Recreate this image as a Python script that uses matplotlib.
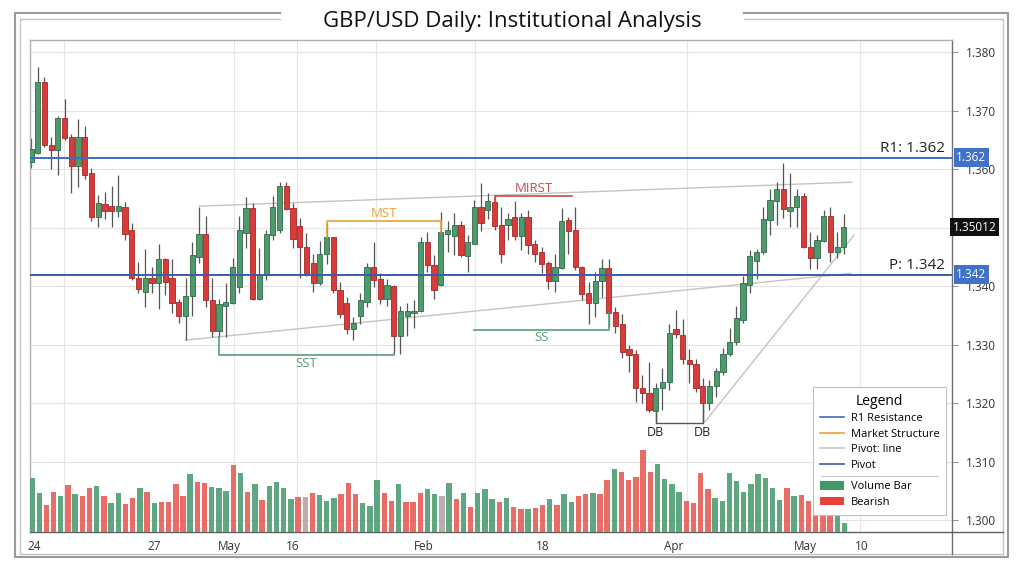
import matplotlib
matplotlib.use("Agg")
import matplotlib.pyplot as plt
from matplotlib.lines import Line2D
from matplotlib.patches import Patch
import numpy as np

plt.rcParams['font.family'] = ['Open Sans', 'DejaVu Sans']

# ---------------- data ----------------
opens = [1.3612,1.3627,1.3749,1.3641,1.3633,1.3687,1.3655,1.3605,1.3655,1.3593,
         1.3518,1.3540,1.3538,1.3528,1.3535,1.3497,1.3414,1.3390,1.3415,1.3405,
         1.3446,1.3414,1.3374,1.3350,1.3383,1.3450,1.3489,1.3376,1.3323,1.3366,
         1.3372,1.3398,1.3491,1.3533,1.3379,1.3419,1.3487,1.3497,1.3571,1.3533,
         1.3503,1.3468,1.3439,1.3405,1.3455,1.3484,1.3393,1.3371,1.3327,1.3349,
         1.3374,1.3433,1.3412,1.3379,1.3400,1.3315,1.3349,1.3354,1.3357,1.3475,
         1.3436,1.3402,1.3489,1.3486,1.3504,1.3451,1.3473,1.3535,1.3530,1.3544,
         1.3504,1.3504,1.3518,1.3486,1.3518,1.3472,1.3458,1.3439,1.3409,1.3431,
         1.3513,1.3496,1.3433,1.3388,1.3372,1.3409,1.3431,1.3356,1.3335,1.3292,
         1.3284,1.3227,1.3217,1.3186,1.3226,1.3236,1.3327,1.3316,1.3274,1.3268,
         1.3230,1.3200,1.3229,1.3253,1.3284,1.3304,1.3342,1.3403,1.3443,1.3458,
         1.3513,1.3545,1.3566,1.3528,1.3535,1.3554,1.3468,1.3448,1.3477,1.3521,
         1.3458,1.3467]
closes = [1.3634,1.3749,1.3641,1.3633,1.3687,1.3653,1.3605,1.3655,1.3591,1.3518,
          1.3542,1.3528,1.3528,1.3538,1.3489,1.3414,1.3396,1.3415,1.3405,1.3446,
          1.3407,1.3372,1.3350,1.3383,1.3453,1.3489,1.3376,1.3323,1.3369,1.3374,
          1.3433,1.3497,1.3533,1.3379,1.3421,1.3489,1.3535,1.3571,1.3532,1.3480,
          1.3467,1.3419,1.3405,1.3456,1.3484,1.3393,1.3352,1.3327,1.3337,1.3376,
          1.3433,1.3410,1.3379,1.3402,1.3315,1.3357,1.3357,1.3357,1.3475,1.3436,
          1.3393,1.3492,1.3497,1.3504,1.3453,1.3475,1.3535,1.3508,1.3545,1.3503,
          1.3455,1.3515,1.3486,1.3518,1.3470,1.3456,1.3438,1.3409,1.3433,1.3511,
          1.3494,1.3433,1.3386,1.3372,1.3409,1.3431,1.3354,1.3332,1.3287,1.3282,
          1.3227,1.3217,1.3188,1.3226,1.3236,1.3320,1.3318,1.3275,1.3267,1.3227,
          1.3200,1.3229,1.3255,1.3285,1.3304,1.3345,1.3405,1.3451,1.3458,1.3515,
          1.3547,1.3566,1.3532,1.3535,1.3554,1.3467,1.3448,1.3479,1.3521,1.3458,
          1.3468,1.3501]
highs = [1.3653,1.3774,1.3757,1.3655,1.3691,1.3721,1.3660,1.3686,1.3674,1.3603,
         1.3556,1.3561,1.3571,1.3591,1.3544,1.3508,1.3441,1.3463,1.3433,1.3473,
         1.3448,1.3446,1.3379,1.3414,1.3475,1.3535,1.3520,1.3414,1.3379,1.3405,
         1.3448,1.3520,1.3552,1.3542,1.3465,1.3497,1.3554,1.3578,1.3578,1.3542,
         1.3516,1.3491,1.3456,1.3477,1.3508,1.3485,1.3407,1.3381,1.3347,1.3388,
         1.3439,1.3475,1.3422,1.3412,1.3402,1.3366,1.3371,1.3376,1.3484,1.3492,
         1.3453,1.3527,1.3511,1.3525,1.3511,1.3487,1.3547,1.3576,1.3559,1.3554,
         1.3535,1.3525,1.3545,1.3525,1.3530,1.3479,1.3467,1.3444,1.3455,1.3533,
         1.3518,1.3535,1.3434,1.3407,1.3424,1.3446,1.3446,1.3364,1.3352,1.3299,
         1.3291,1.3249,1.3270,1.3234,1.3260,1.3335,1.3359,1.3344,1.3292,1.3275,
         1.3244,1.3239,1.3260,1.3295,1.3328,1.3367,1.3417,1.3462,1.3463,1.3535,
         1.3567,1.3578,1.3610,1.3593,1.3567,1.3559,1.3492,1.3487,1.3530,1.3535,
         1.3492,1.3523]
lows = [1.3602,1.3626,1.3638,1.3600,1.3591,1.3650,1.3559,1.3569,1.3584,1.3511,
        1.3501,1.3515,1.3501,1.3518,1.3479,1.3410,1.3388,1.3364,1.3388,1.3362,
        1.3385,1.3354,1.3338,1.3308,1.3350,1.3439,1.3364,1.3313,1.3313,1.3313,
        1.3370,1.3388,1.3465,1.3376,1.3376,1.3410,1.3479,1.3491,1.3530,1.3465,
        1.3415,1.3417,1.3390,1.3402,1.3438,1.3388,1.3345,1.3318,1.3309,1.3335,
        1.3364,1.3398,1.3370,1.3367,1.3285,1.3284,1.3315,1.3328,1.3356,1.3424,
        1.3378,1.3400,1.3458,1.3453,1.3450,1.3424,1.3472,1.3494,1.3515,1.3496,
        1.3439,1.3479,1.3479,1.3462,1.3456,1.3441,1.3422,1.3396,1.3390,1.3429,
        1.3456,1.3427,1.3376,1.3335,1.3347,1.3381,1.3330,1.3320,1.3277,1.3253,
        1.3202,1.3200,1.3185,1.3168,1.3188,1.3222,1.3311,1.3268,1.3234,1.3219,
        1.3168,1.3188,1.3210,1.3248,1.3280,1.3300,1.3338,1.3388,1.3412,1.3456,
        1.3487,1.3504,1.3516,1.3501,1.3501,1.3465,1.3429,1.3429,1.3475,1.3441,
        1.3448,1.3455]

volumes = [54,39,27,40,36,47,38,36,44,46, 36,29,39,28,34,44,40,29,30,30,
           48,36,58,50,49,45,44,41,67,59, 40,48,32,46,50,44,33,35,35,39,
           37,31,34,38,49,38,29,26,52,39, 31,48,30,30,39,43,38,36,49,33,
           39,25,39,43,33,30,34,25,
           23,23,24,27,33,27,38,30,36,38, 39,38,52,63,60,52,55,82,60,68,
           53,48,40,31,29,59,43,34,31,59, 51,40,48,58,54,44,32,44,36,37,
           31,30,28,25,22,9]
volume_kind = ("ggrrgrgrrgrggrrgrgrrrrgrrgggrgrgrggggrxrgggrrrgggrrgrrrggxgrgrgggrgr"
               "rgrrgrggrrgrrgrrrrrggggrrrrggggggggggrgrrrrrgg")

r1_level = 1.362
pivot_level = 1.342
last_price = 1.35012
price_ticks = [1.300, 1.310, 1.320, 1.330, 1.340, 1.350, 1.360, 1.370, 1.380]
x_tick_pos = [0.45, 18.3, 29.6, 39.0, 58.5, 76.2, 95.7, 115.2, 123.7]
x_tick_labels = ['24', '27', 'May', '16', 'Feb', '18', 'Apr', 'May', '10']
x_grid_pos = [4.9, 30.2, 39.6, 51.3, 66.1, 97.6, 123.4]

# trend lines (x0, p0, x1, p1)
trend_lines = [(25, 1.3537, 122.2, 1.3578),
               (23, 1.3308, 122.0, 1.3422),
               (100.3, 1.3168, 122.5, 1.3487)]
# structure brackets: (label, x0, x1, level, end0, end1, label_x, label_y)
brackets = [('MST', 44, 61, 1.3511, 1.3484, 1.3492, 52.5, 1.3525),
            ('SST', 28, 54, 1.3282, 1.3313, 1.3285, 41.0, 1.3268),
            ('SS', 66, 86, 1.3326, 1.3326, 1.3354, 76.0, 1.3313),
            ('MIRST', 69, 80.5, 1.3554, 1.3544, 1.3554, 74.8, 1.3568)]
db_points = [93, 100]
db_level = 1.3166
db_ends = [1.3186, 1.3200]

# ---------------- styles ----------------
G_FILL, G_EDGE = '#4f9a6c', '#2f6b47'
R_FILL, R_EDGE = '#d93b3b', '#a32828'
VOL_COL = {'g': '#55a27a', 'r': '#e8645e', 'x': '#b8a9a9'}
BLUE = '#3d6cc0'
PIV_BLUE = '#3a5da8'
ORANGE = '#e8a33a'
GREEN_ANN = '#5a9e78'
RED_ANN = '#c94a4a'
TREND = '#c4c4c4'

W, H = 1024, 572
fig = plt.figure(figsize=(W / 100, H / 100), dpi=100)
rect = [30 / W, 1 - 532 / H, 922 / W, 492 / H]
ax = fig.add_axes(rect)
axv = fig.add_axes(rect)
axv.patch.set_alpha(0)
axv.axis('off')

n = len(opens)
x = np.arange(n)
o = np.array(opens); c = np.array(closes); hi = np.array(highs); lo = np.array(lows)
up = c >= o

ax.set_xlim(-0.15, 137.1)
ax.set_ylim(1.2980, 1.3821)

# grid
for p in price_ticks:
    ax.axhline(p, color='#e3e3e3', lw=0.8, zorder=0)
for gx in x_grid_pos:
    ax.axvline(gx, color='#e6e6e6', lw=0.8, zorder=0)

# candles
ax.vlines(x, lo, hi, color='#555555', lw=0.9, zorder=2)
body_bottom = np.minimum(o, c)
body_h = np.maximum(np.abs(c - o), 0.00012)
ax.bar(x, body_h, bottom=body_bottom, width=0.78,
       color=np.where(up, G_FILL, R_FILL), edgecolor=np.where(up, G_EDGE, R_EDGE),
       linewidth=0.6, zorder=3)

# pivot levels
ax.axhline(r1_level, color=BLUE, lw=1.4, zorder=4)
ax.axhline(pivot_level, color=PIV_BLUE, lw=1.4, zorder=4)
ax.text(136.0, r1_level + 0.0003, f'R1: {r1_level:.3f}', ha='right', va='bottom',
        fontsize=11, color='#222222', zorder=6)
ax.text(136.0, pivot_level + 0.0003, f'P: {pivot_level:.3f}', ha='right', va='bottom',
        fontsize=11, color='#222222', zorder=6)

# trend lines
for (x0, p0, x1, p1) in trend_lines:
    ax.plot([x0, x1], [p0, p1], color=TREND, lw=1.0, zorder=1.5)

# brackets
ann_colors = {'MST': ORANGE, 'SST': GREEN_ANN, 'SS': GREEN_ANN, 'MIRST': RED_ANN}
for (lab, x0, x1, lev, e0, e1, lx, ly) in brackets:
    col = ann_colors[lab]
    ax.plot([x0, x0, x1, x1], [e0, lev, lev, e1], color=col, lw=1.2, zorder=4)
    ax.text(lx, ly, lab, ha='center', va='center', fontsize=9.5, color=col, zorder=6)
ax.plot([db_points[0], db_points[0], db_points[1], db_points[1]],
        [db_ends[0], db_level, db_level, db_ends[1]], color='#555555', lw=1.0, zorder=4)
for dx in db_points:
    ax.text(dx, db_level - 0.0016, 'DB', ha='center', va='center', fontsize=9, color='#222222', zorder=6)

# axes styling (the 1.350 label sits under the last-price box, so it is left blank)
ax.yaxis.tick_right()
ax.set_yticks(price_ticks)
ax.set_yticklabels(['' if abs(p - 1.350) < 1e-9 else f'{p:.3f}' for p in price_ticks])
ax.tick_params(axis='y', length=4, color='#999999', labelsize=8.5, labelcolor='#333333', pad=6)
ax.set_xticks(x_tick_pos)
ax.set_xticklabels(x_tick_labels)
ax.tick_params(axis='x', length=0, labelsize=8.5, labelcolor='#333333', pad=6)
for s in ['left', 'top']:
    ax.spines[s].set_color('#b0b0b0'); ax.spines[s].set_linewidth(1.0)
ax.spines['right'].set_color('#707070'); ax.spines['right'].set_linewidth(1.0)
ax.spines['bottom'].set_color('#606060'); ax.spines['bottom'].set_linewidth(1.0)

# right-side value boxes
ytr = ax.get_yaxis_transform()
for val, txt, fc in [(r1_level, f'{r1_level:.3f}', '#3f72c8'),
                     (pivot_level, f'{pivot_level:.3f}', '#3f72c8'),
                     (last_price, f'{last_price:.5f}', '#111111')]:
    ax.text(1.0045 if fc != '#111111' else 1.001, val, txt, transform=ytr, ha='left', va='center',
            fontsize=8.5, color='white', zorder=10, clip_on=False,
            bbox=dict(boxstyle='square,pad=0.22', fc=fc, ec='none'))

# volume bars
xv = np.arange(len(volumes))
axv.set_xlim(-0.28, 127.96)
axv.set_ylim(0, 492)
axv.bar(xv, volumes, width=0.75, color=[VOL_COL[k] for k in volume_kind], alpha=0.95, zorder=2)

# legend
handles = [Line2D([], [], color=BLUE, lw=1.2), Line2D([], [], color=ORANGE, lw=1.2),
           Line2D([], [], color='#c8c8c8', lw=1.2), Line2D([], [], color=PIV_BLUE, lw=1.2),
           Line2D([], [], color='none'),
           Patch(fc='#3f9a68', ec='none'), Patch(fc='#e8423f', ec='none')]
labels = ['R1 Resistance', 'Market Structure', 'Pivot: line', 'Pivot', ' ', 'Volume Bar', 'Bearish']
leg = axv.legend(handles, labels, title='Legend', loc='upper left',
                 bbox_to_anchor=(813 / W, 1 - 387 / H), bbox_transform=fig.transFigure,
                 borderaxespad=0, fontsize=8, title_fontsize=10, frameon=True, fancybox=False,
                 edgecolor='#c0c0c0', framealpha=1, labelspacing=0.4, handlelength=2.2,
                 handletextpad=0.6, borderpad=0.6, handleheight=0.8)
leg.get_frame().set_linewidth(0.8)
leg.get_texts()[4].set_fontsize(1)
leg.set_zorder(20)
try:
    col_box = leg._legend_handle_box.get_children()[0]
    spacer_row = col_box.get_children()[4]
    spacer_row.get_children()[0].height = 1
except Exception:
    pass

# frame & title
def fig_line(xs, ys, **kw):
    fig.add_artist(Line2D([v / W for v in xs], [1 - v / H for v in ys],
                          transform=fig.transFigure, **kw))

fig_line([280, 15, 15, 1008, 1008, 744], [13, 13, 557, 557, 13, 13], color='#9a9a9a', lw=1.5)
fig_line([280, 20, 20, 1003, 1003, 744], [19, 19, 554, 554, 19, 19], color='#c4c4c4', lw=1.0)
fig_line([952, 952], [532, 554], color='#707070', lw=1.0)
fig_line([952, 1003], [532, 532], color='#606060', lw=1.0)
fig.text(0.5, 1 - 22 / H, 'GBP/USD Daily: Institutional Analysis', ha='center', va='center',
         fontsize=16, color='#111111')

fig.canvas.draw()
r = fig.canvas.get_renderer()
t_piv = leg.get_texts()[3].get_window_extent(r)
t_vol = leg.get_texts()[5].get_window_extent(r)
fb = leg.get_frame().get_window_extent(r)
ysep = (t_piv.y0 + t_vol.y1) / 2
fig.add_artist(Line2D([(fb.x0 + 8) / W, (fb.x1 - 8) / W], [ysep / H, ysep / H],
                      transform=fig.transFigure, color='#c8c8c8', lw=0.8, zorder=30))

fig.savefig('out.png', dpi=100)
